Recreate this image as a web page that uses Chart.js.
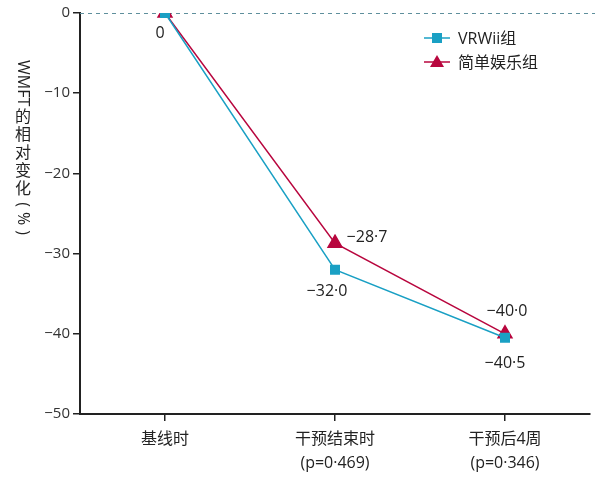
<!DOCTYPE html>
<html>
<head>
<meta charset="utf-8">
<script src="https://cdn.jsdelivr.net/npm/chart.js@4"></script>
<style>
  html, body { margin: 0; padding: 0; background: #fff; }
  #wrap { width: 600px; height: 480px; }
</style>
</head>
<body>
<div id="wrap"><canvas id="chart" width="600" height="480"></canvas></div>
<script>
// data
const categories = [["基线时"], ["干预结束时", "(p=0·469)"], ["干预后4周", "(p=0·346)"]];
const vrwii = [0, -32.0, -40.5];
const casual = [0, -28.7, -40.0];
const yTicks = [0, -10, -20, -30, -40, -50];
const seriesNames = ["VRWii组", "简单娱乐组"];

const teal = "#1aa0c4";
const red = "#b8063e";
const font = "'Open Sans', 'Noto Sans CJK SC', sans-serif";

function fmt(v) {
  if (v === 0) return "0";
  return "\u2212" + Math.abs(v).toFixed(1).replace(".", "·");
}

// where each value label sits relative to its point
const labelPos = [
  [{dx: -5, dy: 20}, {dx: -8, dy: 22}, {dx: 0, dy: 26}],
  [null, {dx: 32, dy: -6}, {dx: 2, dy: -22}]
];

const extras = {
  id: "extras",
  beforeDatasetsDraw(chart) {
    const ctx = chart.ctx, a = chart.chartArea, y = chart.scales.y;
    ctx.save();
    ctx.strokeStyle = "#5f8f9c";
    ctx.lineWidth = 1;
    ctx.setLineDash([4, 4]);
    ctx.beginPath();
    ctx.moveTo(a.left, y.getPixelForValue(0) + 0.5);
    ctx.lineTo(a.right + 5, y.getPixelForValue(0) + 0.5);
    ctx.stroke();
    ctx.restore();
  },
  afterDraw(chart) {
    const ctx = chart.ctx;
    ctx.save();
    // value labels
    ctx.fillStyle = "#222";
    ctx.font = "16px " + font;
    ctx.textAlign = "center";
    ctx.textBaseline = "middle";
    [vrwii, casual].forEach((arr, i) => {
      const meta = chart.getDatasetMeta(i);
      arr.forEach((v, j) => {
        const p = labelPos[i][j];
        if (!p) return;
        const pt = meta.data[j];
        ctx.fillText(fmt(v), pt.x + p.dx, pt.y + p.dy);
      });
    });

    // legend: line with marker
    const items = [{c: teal, s: "rect"}, {c: red, s: "triangle"}];
    items.forEach((it, i) => {
      const ly = 38 + i * 24, lx = 424;
      ctx.strokeStyle = it.c;
      ctx.lineWidth = 1.5;
      ctx.beginPath();
      ctx.moveTo(lx, ly);
      ctx.lineTo(lx + 26, ly);
      ctx.stroke();
      ctx.fillStyle = it.c;
      const cx = lx + 13;
      if (it.s === "rect") {
        ctx.fillRect(cx - 5, ly - 5, 10, 10);
      } else {
        ctx.beginPath();
        ctx.moveTo(cx, ly - 7);
        ctx.lineTo(cx + 7, ly + 5);
        ctx.lineTo(cx - 7, ly + 5);
        ctx.closePath();
        ctx.fill();
      }
      ctx.fillStyle = "#222";
      ctx.textAlign = "left";
      ctx.font = "16px " + font;
      ctx.fillText(seriesNames[i], lx + 34, ly + 1);
    });

    // vertical y-axis title: latin rotated, CJK upright
    const tx = 23;
    let ty = 60;
    ctx.font = "16px " + font;
    ctx.fillStyle = "#222";
    const parts = [["WMFT", true, 2], ["的", false, 0], ["相", false, 0], ["对", false, 0], ["变", false, 0], ["化", false, 4], ["(", true, 5], ["%", true, 5], [")", true, 0]];
    parts.forEach(([t, rot, gap]) => {
      const w = ctx.measureText(t).width;
      if (rot) {
        ctx.save();
        ctx.translate(tx, ty);
        ctx.rotate(Math.PI / 2);
        ctx.textAlign = "left";
        ctx.textBaseline = "middle";
        ctx.fillText(t, 0, 0);
        ctx.restore();
        ty += w + gap;
      } else {
        ctx.textAlign = "center";
        ctx.textBaseline = "middle";
        ctx.fillText(t, tx, ty + 9);
        ty += 18 + gap;
      }
    });
    ctx.restore();
  }
};

new Chart(document.getElementById("chart"), {
  type: "line",
  data: {
    labels: categories,
    datasets: [
      {
        label: seriesNames[0],
        data: vrwii,
        borderColor: teal,
        backgroundColor: teal,
        borderWidth: 1.5,
        pointStyle: "rect",
        pointRadius: 6,
        pointHoverRadius: 6,
        tension: 0
      },
      {
        label: seriesNames[1],
        data: casual,
        borderColor: red,
        backgroundColor: red,
        borderWidth: 1.5,
        pointStyle: "triangle",
        pointRadius: 8,
        pointHoverRadius: 8,
        tension: 0
      }
    ]
  },
  options: {
    responsive: false,
    animation: false,
    layout: { padding: { left: 0, right: 10, top: 13, bottom: 0 } },
    plugins: {
      legend: { display: false },
      tooltip: { enabled: false }
    },
    scales: {
      x: {
        offset: true,
        grid: { display: true, drawOnChartArea: false, drawTicks: true, tickLength: 7, color: "#222", lineWidth: 1.5 },
        border: { display: true, color: "#222", width: 2 },
        ticks: { color: "#222", font: { size: 16, family: font, lineHeight: 1.5 }, padding: 6, maxRotation: 0 },
        afterFit(s) { s.height = 66; }
      },
      y: {
        min: -50,
        max: 0,
        afterBuildTicks(s) { s.ticks = yTicks.map(v => ({ value: v })); },
        grid: { display: true, drawOnChartArea: false, drawTicks: true, tickLength: 7, color: "#222", lineWidth: 1.5 },
        border: { display: true, color: "#222", width: 2 },
        ticks: {
          color: "#333",
          font: { size: 15, family: font },
          padding: 3,
          callback: v => v === 0 ? "0" : "\u2212" + Math.abs(v)
        },
        afterFit(s) { s.width = 80; }
      }
    }
  },
  plugins: [extras]
});
</script>
</body>
</html>
